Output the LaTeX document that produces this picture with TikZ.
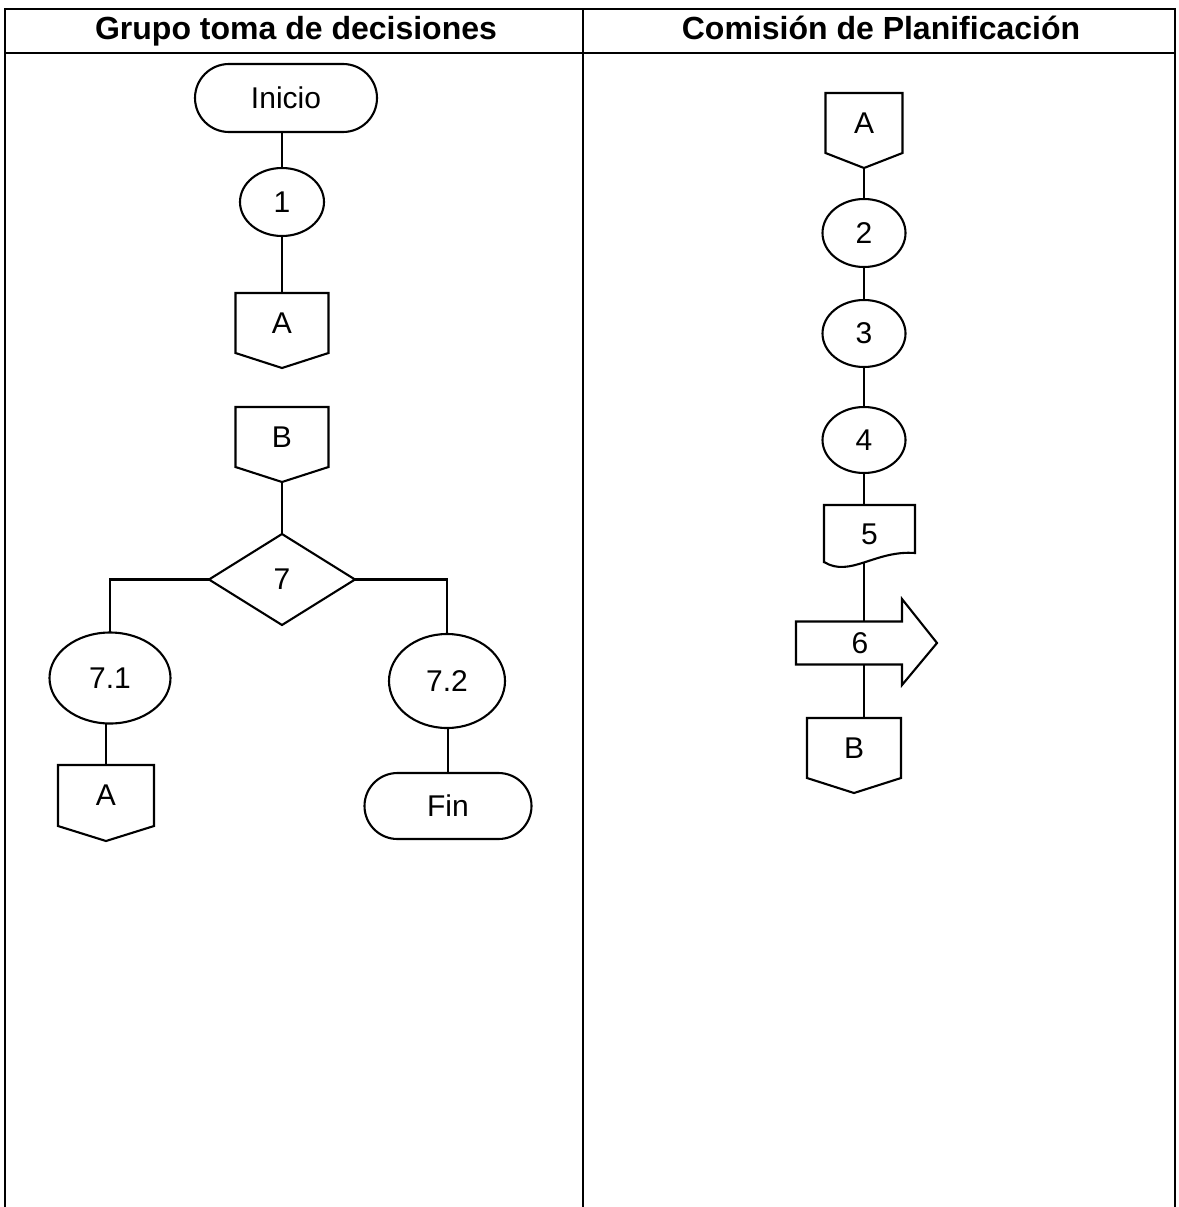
\documentclass[tikz,border=0pt]{standalone}
\usepackage{fontspec}
\setmainfont{Liberation Sans}
\usetikzlibrary{shapes.geometric,shapes.misc,calc}
\newcommand{\offpg}[6]{%
  \node[plain, minimum width=#4, minimum height=#5] (#1) at (#2,#3) {#6};
  \draw[ln, line join=miter] (#1.north west) -- (#1.north east) -- (#1.south east)
    -- ($(#1.south)+(0,-15)$) coordinate (#1-tip) -- (#1.south west) -- cycle;}
\begin{document}
\begin{tikzpicture}[x=1pt,y=1pt,
  ln/.style={line width=2.1pt},
  lbl/.style={font=\fontsize{30}{36}\selectfont},
  hdr/.style={font=\fontsize{32}{38}\selectfont\bfseries, anchor=base, inner sep=0pt},
  term/.style={rounded rectangle, draw, ln, inner sep=0pt, outer sep=0pt, lbl},
  proc/.style={ellipse, draw, ln, inner sep=0pt, outer sep=0pt, lbl},
  dec/.style={diamond, draw, ln, inner sep=0pt, outer sep=0pt, lbl},
  plain/.style={inner sep=0pt, outer sep=0pt, lbl},
]
\useasboundingbox (0,0) rectangle (1178,-1207);
\fill[white] (0,0) rectangle (1178,-1207);
% table
\draw[ln] (5,-1207) -- (5,-9) -- (1175,-9) -- (1175,-1207);
\draw[ln] (5,-53) -- (1175,-53);
\draw[ln] (583,-9) -- (583,-1207);
\node[hdr] (h1) at (296,-40) {Grupo toma de decisiones};
\node[hdr] (h2) at (881,-40) {Comisión de Planificación};
% left column
\node[term, minimum width=182, minimum height=68] (ini) at (286,-98) {Inicio};
\node[proc, minimum width=84, minimum height=68] (p1) at (282,-202) {1};
\offpg{a1}{282}{-323}{93}{60}{A}
\offpg{b1}{282}{-437}{93}{60}{B}
\node[dec, minimum width=146, minimum height=91] (d7) at (282,-579.5) {7};
\node[proc, minimum width=121, minimum height=91] (p71) at (110,-678) {7.1};
\offpg{a2}{106}{-795.5}{96}{61}{A}
\node[proc, minimum width=116, minimum height=94] (p72) at (447,-681) {7.2};
\node[term, minimum width=167, minimum height=66] (fin) at (448,-806) {Fin};
\draw[ln] (p1.north |- ini.south) -- (p1.north);
\draw[ln] (p1.south) -- (a1.north);
\draw[ln] (b1-tip) -- (d7.north);
\draw[ln] (d7.west) -| (p71.north);
\draw[ln] (d7.east) -| (p72.north);
\draw[ln] (a2.north |- p71.south) -- (a2.north);
\draw[ln] (fin.north |- p72.south) -- (fin.north);
% right column
\offpg{a3}{864}{-123}{77}{60}{A}
\node[proc, minimum width=83, minimum height=68] (p2) at (864,-233) {2};
\node[proc, minimum width=83, minimum height=67] (p3) at (864,-333.5) {3};
\node[proc, minimum width=83, minimum height=66] (p4) at (864,-440) {4};
\node[plain, minimum width=91, minimum height=58] (d5) at (869.5,-534) {5};
\draw[ln, line join=miter] (d5.south west) -- (d5.north west) -- (d5.north east)
  -- ($(d5.south east)+(0,10)$)
  .. controls ($(d5.south east)+(-40,13)$) and ($(d5.south west)+(26,-15)$) .. ($(d5.south west)+(0,1)$)
  coordinate[pos=0.5] (d5w) -- cycle;
\node[plain] (s6) at (860,-643) {6};
\draw[ln, line join=miter] ($(s6)+(-64,21.5)$) -- ($(s6)+(42,21.5)$) -- ($(s6)+(42,44)$)
  -- ($(s6)+(77,0)$) -- ($(s6)+(42,-42)$) -- ($(s6)+(42,-21.5)$) -- ($(s6)+(-64,-21.5)$) -- cycle;
\coordinate (s6n) at ($(s6)+(0,21.5)$);
\coordinate (s6s) at ($(s6)+(0,-21.5)$);
\offpg{b3}{854}{-748}{94}{60}{B}
\draw[ln] (a3-tip) -- (p2.north);
\draw[ln] (p2.south) -- (p3.north);
\draw[ln] (p3.south) -- (p4.north);
\draw[ln] (p4.south) -- (p4.south |- d5.north);
\draw[ln] (d5w) -- (d5w |- s6n);
\draw[ln] (d5w |- s6s) -- (d5w |- b3.north);
\end{tikzpicture}
\end{document}
